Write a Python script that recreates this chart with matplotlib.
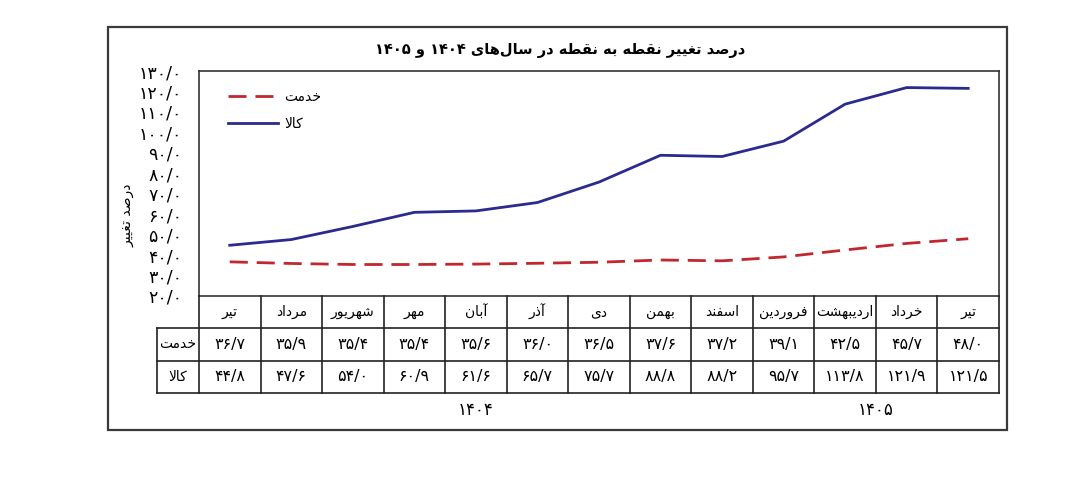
import matplotlib
matplotlib.use("Agg")
import matplotlib.pyplot as plt
from matplotlib.patches import Rectangle

plt.rcParams['font.family'] = ['DejaVu Sans']

# ---- data (chronological, left to right) ----
months = ['تیر', 'مرداد', 'شهریور', 'مهر', 'آبان', 'آذر', 'دی',
          'بهمن', 'اسفند', 'فروردین', 'اردیبهشت', 'خرداد', 'تیر']
years = ['1404'] * 9 + ['1405'] * 4
khedmat = [36.7, 35.9, 35.4, 35.4, 35.6, 36.0, 36.5, 37.6, 37.2, 39.1, 42.5, 45.7, 48.0]
kala = [44.8, 47.6, 54.0, 60.9, 61.6, 65.7, 75.7, 88.8, 88.2, 95.7, 113.8, 121.9, 121.5]
yticks = [20, 30, 40, 50, 60, 70, 80, 90, 100, 110, 120, 130]

title = 'درصد تغییر نقطه به نقطه در سال‌های 1404 و 1405'
ylabel = 'درصد تغییر'
name_khedmat = 'خدمت'
name_kala = 'کالا'

# ---- minimal Persian shaping (matplotlib has no complex text layout) ----
AR_FORMS = {
    0x0622: (0xFE81, 0xFE82), 0x0627: (0xFE8D, 0xFE8E),
    0x0628: (0xFE8F, 0xFE90, 0xFE91, 0xFE92), 0x062A: (0xFE95, 0xFE96, 0xFE97, 0xFE98),
    0x062E: (0xFEA5, 0xFEA6, 0xFEA7, 0xFEA8), 0x062F: (0xFEA9, 0xFEAA),
    0x0630: (0xFEAB, 0xFEAC), 0x0631: (0xFEAD, 0xFEAE), 0x0632: (0xFEAF, 0xFEB0),
    0x0633: (0xFEB1, 0xFEB2, 0xFEB3, 0xFEB4), 0x0634: (0xFEB5, 0xFEB6, 0xFEB7, 0xFEB8),
    0x0635: (0xFEB9, 0xFEBA, 0xFEBB, 0xFEBC), 0x0637: (0xFEC1, 0xFEC2, 0xFEC3, 0xFEC4),
    0x063A: (0xFECD, 0xFECE, 0xFECF, 0xFED0), 0x0641: (0xFED1, 0xFED2, 0xFED3, 0xFED4),
    0x0642: (0xFED5, 0xFED6, 0xFED7, 0xFED8), 0x0644: (0xFEDD, 0xFEDE, 0xFEDF, 0xFEE0),
    0x0645: (0xFEE1, 0xFEE2, 0xFEE3, 0xFEE4), 0x0646: (0xFEE5, 0xFEE6, 0xFEE7, 0xFEE8),
    0x0647: (0xFEE9, 0xFEEA, 0xFEEB, 0xFEEC), 0x0648: (0xFEED, 0xFEEE),
    0x06A9: (0xFB8E, 0xFB8F, 0xFB90, 0xFB91), 0x06CC: (0xFBFC, 0xFBFD, 0xFBFE, 0xFBFF),
}
LAM_ALEF = {0x0627: (0xFEFB, 0xFEFC), 0x0622: (0xFEF5, 0xFEF6)}


def _joining(u):
    return isinstance(u, tuple) or u in AR_FORMS


def _dual(u):
    return not isinstance(u, tuple) and u in AR_FORMS and len(AR_FORMS[u]) == 4


def shape_word(word):
    cps = [ord(c) for c in word]
    units = []
    i = 0
    while i < len(cps):
        if cps[i] == 0x0644 and i + 1 < len(cps) and cps[i + 1] in LAM_ALEF:
            units.append(('la', cps[i + 1]))
            i += 2
        else:
            units.append(cps[i])
            i += 1
    out = []
    for k, u in enumerate(units):
        prev = units[k - 1] if k > 0 else None
        nxt = units[k + 1] if k + 1 < len(units) else None
        jp = prev is not None and _dual(prev) and _joining(u)
        jn = nxt is not None and _dual(u) and _joining(nxt)
        if isinstance(u, tuple):
            out.append(chr(LAM_ALEF[u[1]][1 if jp else 0]))
        elif u in AR_FORMS:
            f = AR_FORMS[u]
            if len(f) == 2:
                out.append(chr(f[1 if jp else 0]))
            else:
                out.append(chr(f[{(False, False): 0, (True, False): 1,
                                  (False, True): 2, (True, True): 3}[(jp, jn)]]))
        elif u != 0x200C:
            out.append(chr(u))
    return ''.join(reversed(out))


def fa_num(s):
    return s.translate(str.maketrans('0123456789.', '۰۱۲۳۴۵۶۷۸۹/'))


def fa(text):
    toks = []
    for t in text.split(' '):
        if any(ord(c) in AR_FORMS for c in t):
            toks.append(shape_word(t))
        else:
            toks.append(fa_num(t))
    return ' '.join(reversed(toks))


# ---- figure ----
W, H = 1080, 491
fig = plt.figure(figsize=(W / 100, H / 100), dpi=100)


def fx(px):
    return px / W


def fy(py):
    return 1 - py / H


fig.patches.append(Rectangle((fx(108), fy(430)), fx(1007) - fx(108), fy(27) - fy(430),
                             transform=fig.transFigure, fill=False, ec='#3a3a3a', lw=1.6))

fig.text(fx(560), fy(50), fa(title), ha='center', va='center', fontsize=10.5, weight='bold')

ax = fig.add_axes([fx(199), fy(296), fx(999) - fx(199), fy(71) - fy(296)])
x = list(range(len(months)))
ax.plot(x, khedmat, color='#c0282e', lw=2, dashes=(6.5, 3.2), label=fa(name_khedmat))
ax.plot(x, kala, color='#2b2a8e', lw=2, label=fa(name_kala))
ax.set_xlim(-0.5, len(months) - 0.5)
ax.set_ylim(yticks[0], yticks[-1])
ax.set_xticks([])
ax.set_yticks(yticks)
ax.set_yticklabels([fa_num(f'{v:.1f}') for v in yticks], fontsize=12.5)
ax.tick_params(axis='y', length=0, pad=12)
for s in ax.spines.values():
    s.set_color('#333333')
    s.set_linewidth(1.2)
ax.legend(loc='upper left', bbox_to_anchor=(0.02, 0.97), frameon=False, fontsize=10,
          handlelength=3.6, handletextpad=0.5, labelspacing=0.9)

fig.text(fx(127), fy(215), fa(ylabel), rotation=90, ha='center', va='center', fontsize=10)

# ---- table under the plot ----
n = len(months)
lab_w = (199 - 157) / ((999 - 199) / n)
tax = fig.add_axes([fx(157), fy(393), fx(999) - fx(157), fy(296) - fy(393)])
tax.set_xlim(-0.5 - lab_w, n - 0.5)
tax.set_ylim(3, 0)
tax.axis('off')
lc, lw = '#222222', 1.2
for yy in (1, 2, 3):
    tax.plot([-0.5 - lab_w, n - 0.5], [yy, yy], color=lc, lw=lw, clip_on=False)
for k in range(n + 1):
    tax.plot([k - 0.5, k - 0.5], [0, 3], color=lc, lw=lw, clip_on=False)
tax.plot([-0.5 - lab_w] * 2, [1, 3], color=lc, lw=lw, clip_on=False)

lab_x = -0.5 - lab_w / 2
tax.text(lab_x, 1.5, fa(name_khedmat), ha='center', va='center', fontsize=10)
tax.text(lab_x, 2.5, fa(name_kala), ha='center', va='center', fontsize=10)
for i in range(n):
    tax.text(i, 0.5, fa(months[i]), ha='center', va='center', fontsize=10)
    tax.text(i, 1.5, fa_num(f'{khedmat[i]:.1f}'), ha='center', va='center', fontsize=11.5)
    tax.text(i, 2.5, fa_num(f'{kala[i]:.1f}'), ha='center', va='center', fontsize=11.5)

# year labels centred under their months
for yr in dict.fromkeys(years):
    idx = [i for i, y in enumerate(years) if y == yr]
    tax.text((idx[0] + idx[-1]) / 2, 3.53, fa_num(yr), ha='center', va='center',
             fontsize=12, clip_on=False)

fig.savefig('out.png', dpi=100)
